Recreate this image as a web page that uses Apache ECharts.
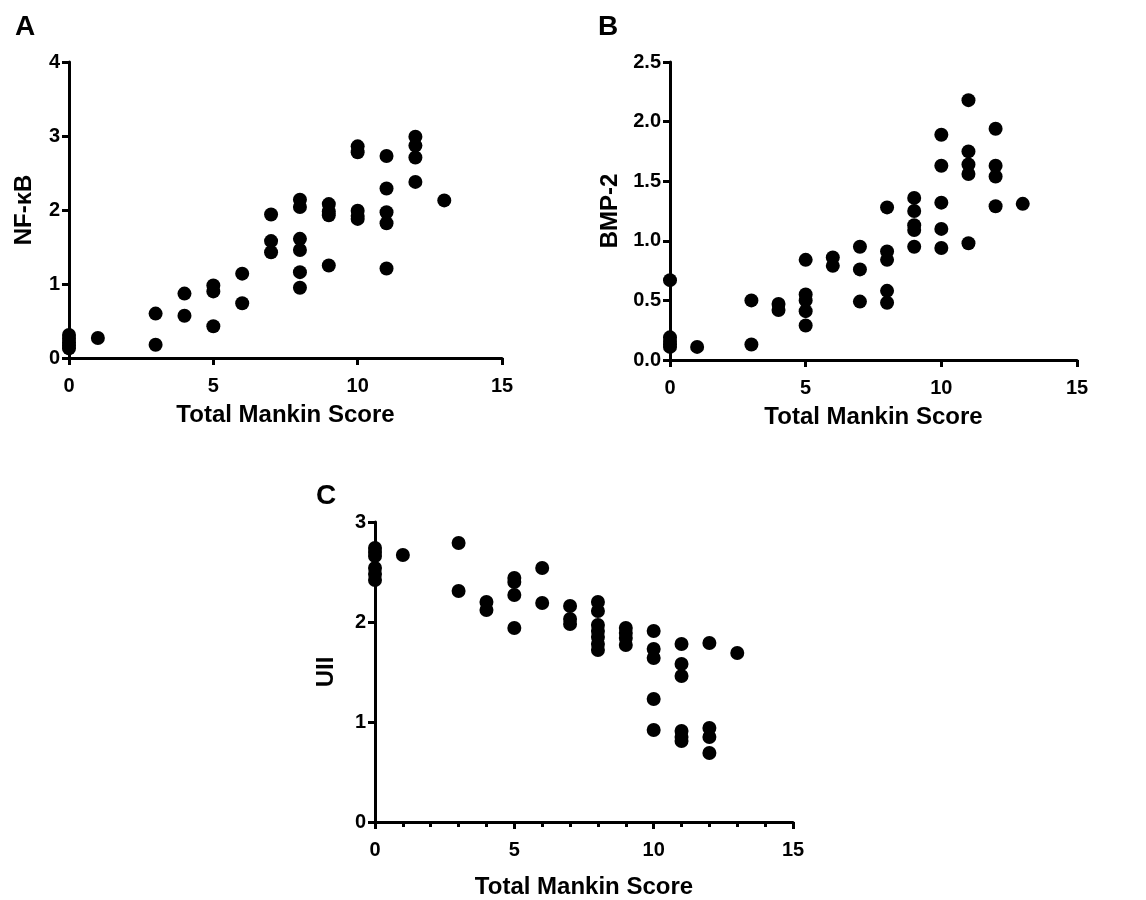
<!DOCTYPE html>
<html>
<head>
<meta charset="utf-8">
<script src="https://cdn.jsdelivr.net/npm/echarts@6/dist/echarts.min.js"></script>
<style>html,body{margin:0;padding:0;background:#fff}#c{width:1146px;height:900px}</style>
</head>
<body>
<div id="c"></div>
<script>
// Panel A: NF-κB vs Total Mankin Score
const nfkbScore = [0,0,0,0,0, 1, 3,3, 4,4, 5,5,5, 6,6, 7,7,7, 8,8,8,8,8,8, 9,9,9,9, 10,10,10,10,10, 11,11,11,11,11, 12,12,12,12, 13];
const nfkbValue = [0.31,0.26,0.21,0.17,0.13, 0.27, 0.60,0.18, 0.87,0.57, 0.98,0.90,0.43, 1.14,0.74, 1.94,1.58,1.43, 2.14,2.04,1.61,1.46,1.16,0.95, 2.08,1.98,1.93,1.25, 2.86,2.78,1.99,1.92,1.88, 2.73,2.29,1.97,1.82,1.21, 2.99,2.87,2.71,2.38, 2.13];

// Panel B: BMP-2 vs Total Mankin Score
const bmpScore = [0,0,0,0,0, 1, 3,3, 4,4, 5,5,5,5,5, 6,6, 7,7,7, 8,8,8,8,8, 9,9,9,9,9, 10,10,10,10,10, 11,11,11,11,11, 12,12,12,12, 13];
const bmpValue = [0.67,0.19,0.16,0.13,0.11, 0.11, 0.50,0.13, 0.47,0.42, 0.84,0.55,0.50,0.41,0.29, 0.86,0.79, 0.95,0.76,0.49, 1.28,0.91,0.84,0.58,0.48, 1.36,1.25,1.13,1.09,0.95, 1.89,1.63,1.32,1.10,0.94, 2.18,1.75,1.64,1.56,0.98, 1.94,1.63,1.54,1.29, 1.31];

// Panel C: UII vs Total Mankin Score
const uiiScore = [0,0,0,0,0,0, 1, 3,3, 4,4, 5,5,5,5, 6,6, 7,7,7, 8,8,8,8,8,8,8, 9,9,9,9, 10,10,10,10,10, 11,11,11,11,11,11, 12,12,12,12, 13];
const uiiValue = [2.74,2.70,2.66,2.54,2.48,2.42, 2.67, 2.79,2.31, 2.20,2.12, 2.44,2.40,2.27,1.94, 2.54,2.19, 2.16,2.03,1.98, 2.20,2.11,1.97,1.91,1.85,1.78,1.72, 1.94,1.89,1.84,1.77, 1.91,1.73,1.64,1.23,0.92, 1.78,1.58,1.46,0.91,0.85,0.81, 1.79,0.94,0.85,0.69, 1.69];

const xName = 'Total Mankin Score';
const panelLabels = ['A','B','C'];
const yNames = ['NF-\u03BAB','BMP-2','UII'];

const FONT = '"Liberation Sans", Arial, sans-serif';
const pair = (xs, ys) => xs.map((x, i) => [x, ys[i]]);

function xAxis(idx, minor, gap) {
  return {
    gridIndex: idx, type: 'value', min: 0, max: 15, interval: 5,
    name: xName, nameLocation: 'middle', nameGap: gap,
    nameTextStyle: {fontFamily: FONT, fontWeight: 'bold', fontSize: 24, color: '#000'},
    axisLine: {show: true, onZero: false, lineStyle: {color: '#000', width: 3}},
    axisTick: {show: true, length: 7, lineStyle: {color: '#000', width: 3}},
    minorTick: {show: minor, splitNumber: 5, length: 5, lineStyle: {color: '#000', width: 3}},
    splitLine: {show: false},
    axisLabel: {fontFamily: FONT, fontWeight: 'bold', fontSize: 20, color: '#000', margin: 18}
  };
}
function yAxis(idx, max, interval, name, gap, fmt) {
  return {
    gridIndex: idx, type: 'value', min: 0, max: max, interval: interval,
    name: name, nameLocation: 'middle', nameGap: gap, nameRotate: 90,
    nameTextStyle: {fontFamily: FONT, fontWeight: 'bold', fontSize: 24, color: '#000'},
    axisLine: {show: true, onZero: false, lineStyle: {color: '#000', width: 3}},
    axisTick: {show: true, length: 7, lineStyle: {color: '#000', width: 3}},
    splitLine: {show: false},
    axisLabel: {fontFamily: FONT, fontWeight: 'bold', fontSize: 20, color: '#000', margin: 9, formatter: fmt}
  };
}
function series(idx, data) {
  return {
    type: 'scatter', xAxisIndex: idx, yAxisIndex: idx, data: data,
    symbol: 'circle', symbolSize: 14, clip: false, z: 5,
    itemStyle: {color: '#000', opacity: 1}
  };
}

const chart = echarts.init(document.getElementById('c'), null, {renderer: 'canvas'});
chart.setOption({
  animation: false,
  backgroundColor: '#fff',
  title: [
    {text: panelLabels[0], left: 10, top: 8},
    {text: panelLabels[1], left: 593, top: 8},
    {text: panelLabels[2], left: 311, top: 477}
  ].map(t => Object.assign(t, {textStyle: {fontFamily: FONT, fontWeight: 'bold', fontSize: 28, color: '#000'}})),
  grid: [
    {left: 69, top: 62, width: 433, height: 296},
    {left: 670, top: 62, width: 407, height: 298},
    {left: 375, top: 522, width: 418, height: 300}
  ],
  xAxis: [xAxis(0, false, 45), xAxis(1, false, 45), xAxis(2, true, 53)],
  yAxis: [
    yAxis(0, 4, 1, yNames[0], 33, v => String(v)),
    yAxis(1, 2.5, 0.5, yNames[1], 48, v => v.toFixed(1)),
    yAxis(2, 3, 1, yNames[2], 37, v => String(v))
  ],
  series: [
    series(0, pair(nfkbScore, nfkbValue)),
    series(1, pair(bmpScore, bmpValue)),
    series(2, pair(uiiScore, uiiValue))
  ]
});
</script>
</body>
</html>
